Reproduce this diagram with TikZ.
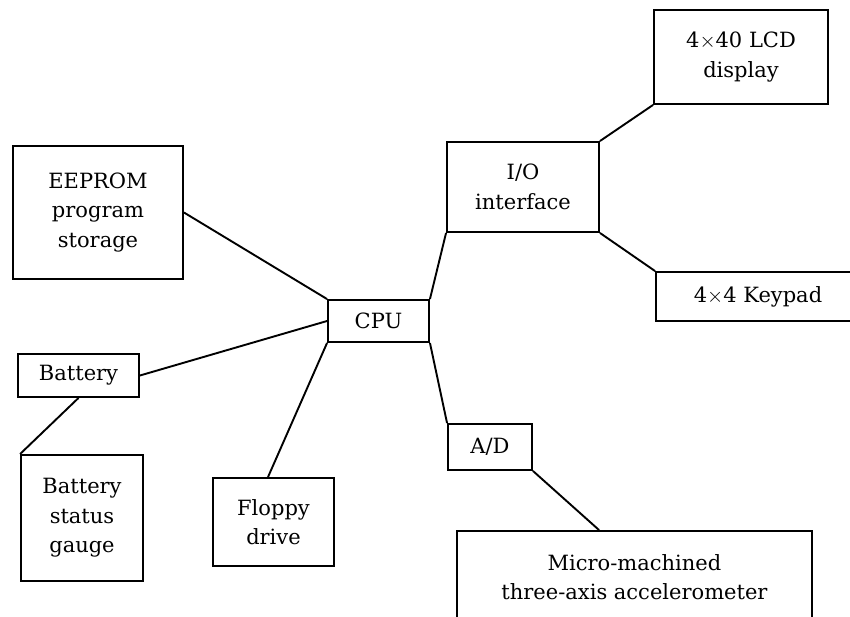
\documentclass[tikz,border=0pt]{standalone}
\usepackage{fontspec}
\setmainfont{DejaVu Serif}
\begin{document}
\begin{tikzpicture}[x=1pt,y=-1pt,
  box/.style={draw,line width=1.9pt,rectangle,inner sep=0pt,align=center,
    font=\fontsize{21}{29.5}\selectfont},
  link/.style={line width=1.9pt}]
\useasboundingbox (0,0) rectangle (850,617);
\clip (0,0) rectangle (850,617);
\node[box,minimum width=174pt,minimum height=94pt] (lcd) at (741,57) {4$\times$40 LCD\\display};
\node[box,minimum width=152pt,minimum height=90pt] (io) at (523,187) {I/O\\interface};
\node[box,minimum width=204pt,minimum height=49pt] (kp) at (758,296.5) {4$\times$4 Keypad};
\node[box,minimum width=170pt,minimum height=133pt] (eeprom) at (98,212.5) {EEPROM\\program\\storage};
\node[box,minimum width=101pt,minimum height=42pt] (cpu) at (378.5,321) {CPU};
\node[box,minimum width=121pt,minimum height=43pt] (bat) at (78.5,375.5) {Battery};
\node[box,minimum width=122pt,minimum height=126pt] (gauge) at (82,518) {Battery\\status\\gauge};
\node[box,minimum width=121pt,minimum height=88pt] (floppy) at (273.5,522) {Floppy\\drive};
\node[box,minimum width=84pt,minimum height=46pt] (ad) at (490,447) {A/D};
\node[box,minimum width=355pt,minimum height=92pt] (acc) at (634.5,577) {Micro-machined\\three-axis accelerometer};
\coordinate (acctop) at ([xshift=143pt]acc.north west);
\draw[link] (eeprom.east) -- (cpu.north west);
\draw[link] (bat.east) -- (cpu.west);
\draw[link] (bat.south) -- (gauge.north west);
\draw[link] (cpu.south west) -- ([xshift=-5.5pt]floppy.north);
\draw[link] (cpu.north east) -- (io.south west);
\draw[link] (cpu.south east) -- (ad.north west);
\draw[link] (io.north east) -- (lcd.south west);
\draw[link] (io.south east) -- (kp.north west);
\draw[link] (ad.south east) -- (acctop);
\end{tikzpicture}
\end{document}
